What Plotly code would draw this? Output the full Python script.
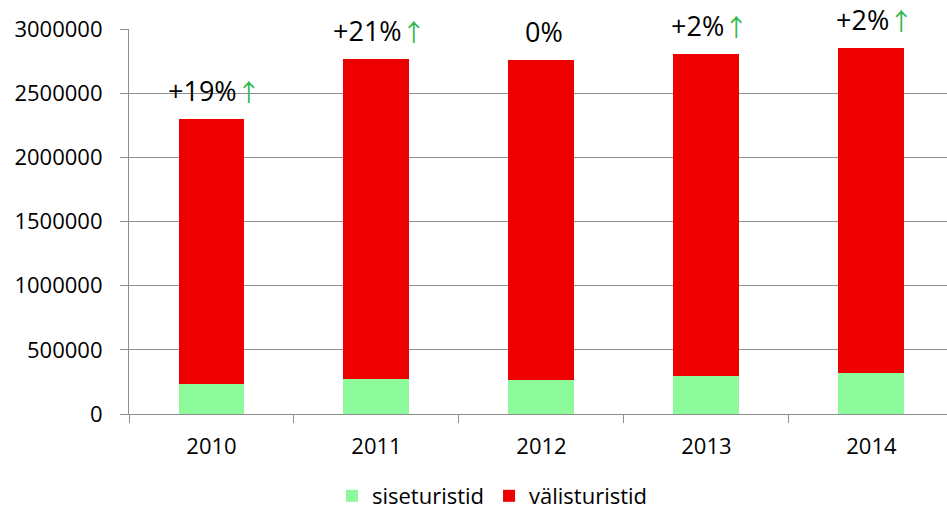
import plotly.graph_objects as go

years = ["2010", "2011", "2012", "2013", "2014"]
siseturistid = [234000, 270000, 262000, 295000, 318000]
valisturistid = [2062000, 2499000, 2500000, 2513000, 2537000]
change_labels = ["+19%", "+21%", "0%", "+2%", "+2%"]
change_up = [True, True, False, True, True]
y_ticks = [0, 500000, 1000000, 1500000, 2000000, 2500000, 3000000]

FONT = "Open Sans"
GRID = "#8f8f8f"

fig = go.Figure()
fig.add_trace(go.Bar(x=years, y=siseturistid, name="siseturistid",
                     marker=dict(color="#8CFA9B", line=dict(width=0)), width=0.4))
fig.add_trace(go.Bar(x=years, y=valisturistid, name="välisturistid",
                     marker=dict(color="#EE0000", line=dict(width=0)), width=0.4))

annotations = []
for i, (s, v, lab, up) in enumerate(zip(siseturistid, valisturistid, change_labels, change_up)):
    txt = lab + ("<span style='color:#2DB84F;font-size:24px;font-family:Noto Sans CJK JP'>↑</span>" if up else "")
    annotations.append(dict(x=i, y=s + v, xref="x", yref="y", text=txt,
                            showarrow=False, yanchor="bottom", yshift=8,
                            xshift=3,
                            font=dict(family=FONT, size=27, color="#000000")))

fig.update_layout(
    width=947, height=514,
    margin=dict(l=129, r=0, t=29, b=100),
    barmode="stack",
    plot_bgcolor="white", paper_bgcolor="white",
    font=dict(family=FONT, size=22, color="#000000"),
    showlegend=True,
    legend=dict(orientation="h", xref="container", yref="container",
                x=0.52, xanchor="center", y=0.035, yanchor="middle",
                font=dict(family=FONT, size=22), itemwidth=30,
                traceorder="normal"),
    annotations=annotations,
)
fig.update_xaxes(type="category", range=[-0.5, 4.458],
                 showline=True, linecolor=GRID, linewidth=1.2,
                 ticks="outside", tickson="boundaries", ticklen=8,
                 tickcolor=GRID, tickwidth=1.2, showgrid=False,
                 ticklabelstandoff=12,
                 tickfont=dict(family=FONT, size=22))
fig.update_yaxes(range=[0, 3000000], tickvals=y_ticks,
                 ticktext=[str(t) for t in y_ticks],
                 showline=True, linecolor=GRID, linewidth=1.2,
                 ticks="outside", ticklen=8, tickcolor=GRID, tickwidth=1.2,
                 showgrid=True, gridcolor=GRID, gridwidth=1.2,
                 zeroline=False, ticklabelstandoff=13,
                 tickfont=dict(family=FONT, size=22))

fig.write_html("out.html", config={"displayModeBar": False},
               post_script="document.body.style.margin='0';")
